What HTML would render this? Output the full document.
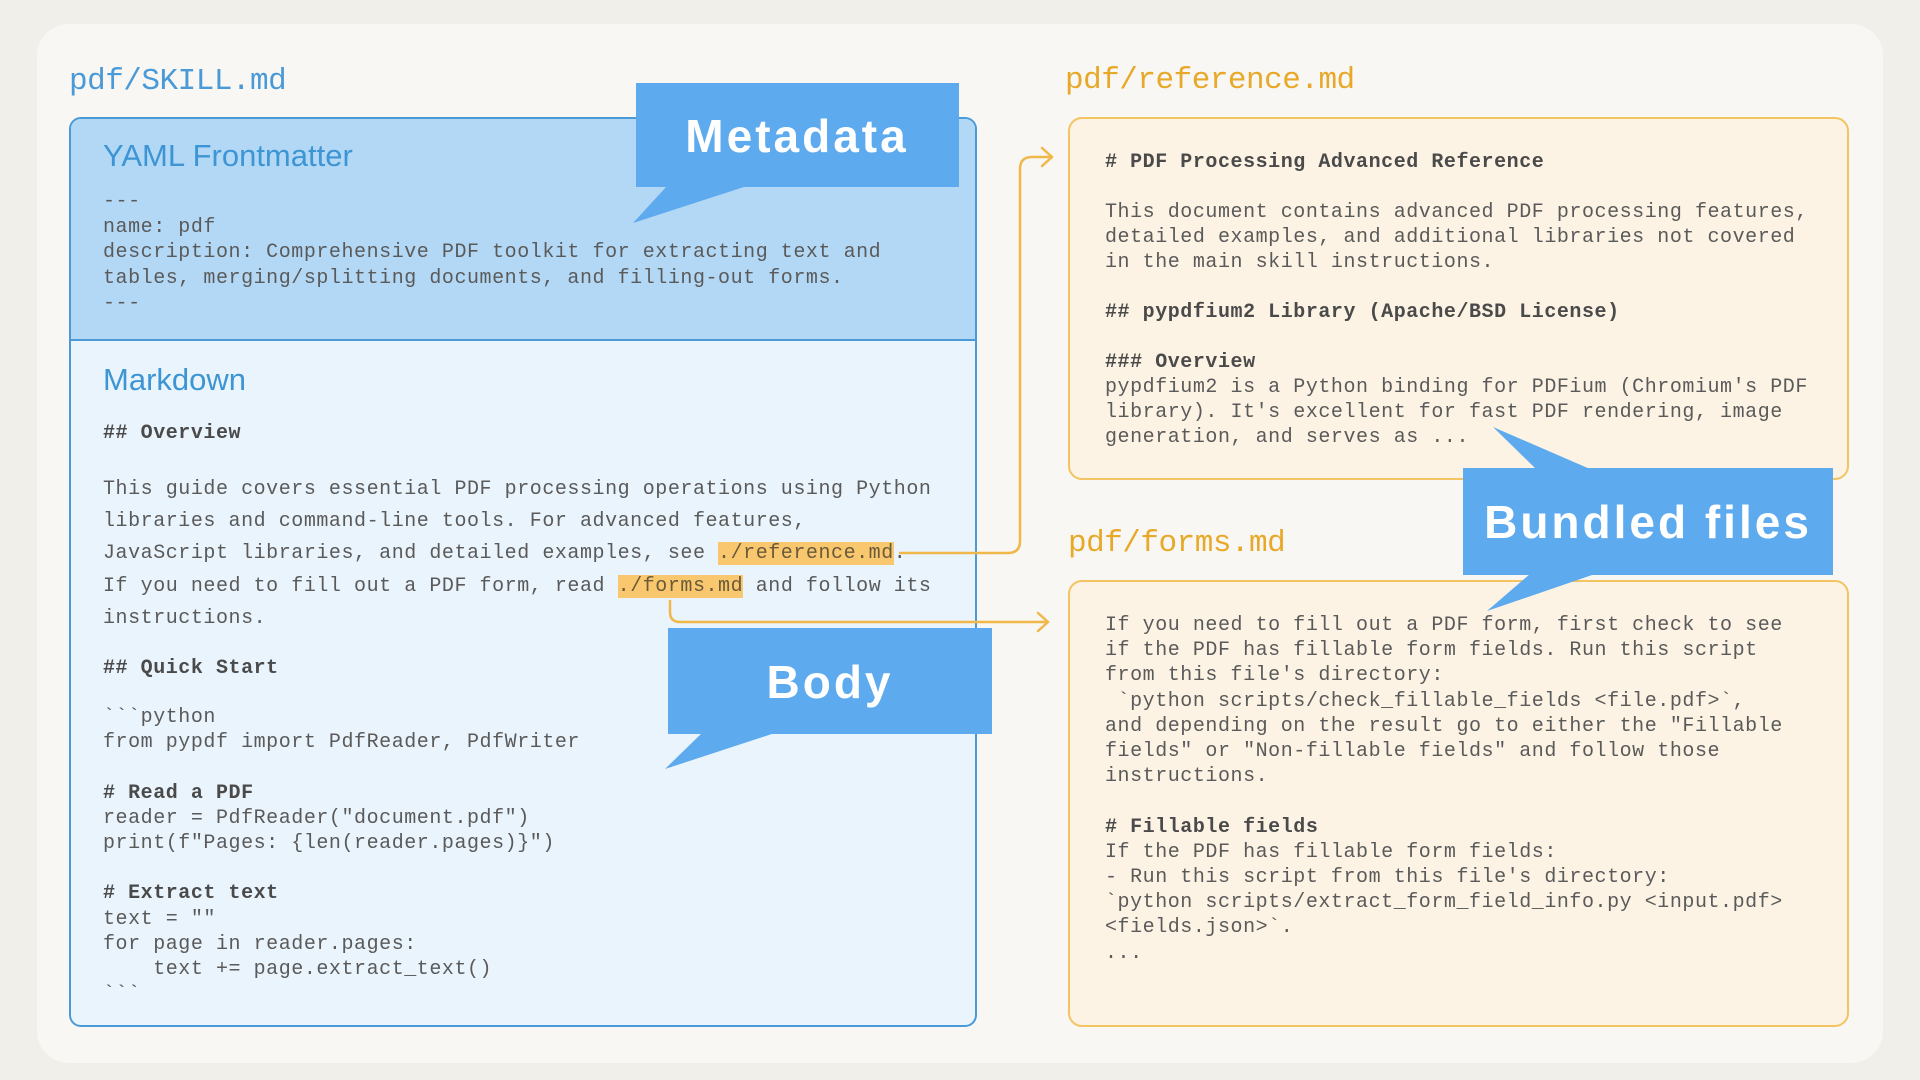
<!DOCTYPE html>
<html><head><meta charset="utf-8"><style>
*{margin:0;padding:0;box-sizing:border-box}
body{width:1920px;height:1080px;background:#f1efea;position:relative;overflow:hidden;font-family:"Liberation Sans",sans-serif}
.abs{position:absolute}
pre{position:absolute;font-family:"Liberation Mono",monospace;font-size:20px;letter-spacing:0.55px;color:#5a5a5a;white-space:pre;margin:0}
b{font-weight:bold;color:#4a4a4a}
.hl{background:#f9c86e;color:#6a5a3a}
.title{position:absolute;font-family:"Liberation Mono",monospace;font-size:31px;letter-spacing:-0.5px}
</style></head><body>
<div class="abs" style="left:37px;top:24px;width:1846px;height:1039px;background:#f8f7f3;border-radius:32px"></div>

<div class="title" style="left:69px;top:64px;color:#4a9ad8">pdf/SKILL.md</div>
<div class="abs" style="left:69px;top:117px;width:908px;height:910px;border:2.5px solid #4a9ad8;border-radius:12px;background:#eaf4fc;overflow:hidden">
  <div style="position:absolute;left:0;top:0;right:0;height:222px;background:#b3d8f5;border-bottom:2.5px solid #4a9ad8"></div>
</div>
<div class="abs" style="left:103px;top:138px;font-size:31px;color:#3d95d4">YAML Frontmatter</div>
<pre style="left:103px;top:189px;line-height:25.5px">---
name: pdf
description: Comprehensive PDF toolkit for extracting text and
tables, merging/splitting documents, and filling-out forms.
---</pre>
<div class="abs" style="left:103px;top:362px;font-size:31px;color:#3d95d4">Markdown</div>
<pre style="left:103px;top:421px;line-height:25px"><b>## Overview</b></pre>
<pre style="left:103px;top:474px;line-height:32.2px">This guide covers essential PDF processing operations using Python
libraries and command-line tools. For advanced features,
JavaScript libraries, and detailed examples, see <span class="hl">./reference.md</span>.
If you need to fill out a PDF form, read <span class="hl">./forms.md</span> and follow its
instructions.</pre>
<pre style="left:103px;top:656px;line-height:25px"><b>## Quick Start</b></pre>
<pre style="left:103px;top:705px;line-height:25.2px">&#96;&#96;&#96;python
from pypdf import PdfReader, PdfWriter

<b># Read a PDF</b>
reader = PdfReader("document.pdf")
print(f"Pages: {len(reader.pages)}")

<b># Extract text</b>
text = ""
for page in reader.pages:
    text += page.extract_text()
&#96;&#96;&#96;</pre>

<div class="title" style="left:1065px;top:63px;color:#e8a92a">pdf/reference.md</div>
<div class="abs" style="left:1068px;top:117px;width:781px;height:363px;border:2.5px solid #f3c461;border-radius:14px;background:#fcf3e4"></div>
<pre style="left:1105px;top:150px;line-height:25px"><b># PDF Processing Advanced Reference</b>

This document contains advanced PDF processing features,
detailed examples, and additional libraries not covered
in the main skill instructions.

<b>## pypdfium2 Library (Apache/BSD License)</b>

<b>### Overview</b>
pypdfium2 is a Python binding for PDFium (Chromium's PDF
library). It's excellent for fast PDF rendering, image
generation, and serves as ...</pre>

<div class="title" style="left:1068px;top:526px;color:#e8a92a">pdf/forms.md</div>
<div class="abs" style="left:1068px;top:580px;width:781px;height:447px;border:2.5px solid #f3c461;border-radius:14px;background:#fcf3e4"></div>
<pre style="left:1105px;top:613px;line-height:25.2px">If you need to fill out a PDF form, first check to see
if the PDF has fillable form fields. Run this script
from this file's directory:
 &#96;python scripts/check_fillable_fields &lt;file.pdf&gt;&#96;,
and depending on the result go to either the "Fillable
fields" or "Non-fillable fields" and follow those
instructions.

<b># Fillable fields</b>
If the PDF has fillable form fields:
- Run this script from this file's directory:
&#96;python scripts/extract_form_field_info.py &lt;input.pdf&gt;
&lt;fields.json&gt;&#96;.
...</pre>

<svg class="abs" style="left:0;top:0" width="1920" height="1080">
  <g fill="none" stroke="#f0b84a" stroke-width="2.5" stroke-linecap="round" stroke-linejoin="round">
    <path d="M900 553 H1008 Q1020 553 1020 541 V169 Q1020 157 1032 157 H1052"/>
    <path d="M1042 148 L1052 157 L1042 166"/>
    <path d="M670 601 V612 Q670 622 680 622 H1048"/>
    <path d="M1038 613 L1048 622 L1038 631"/>
  </g>
  <g fill="#5eaaee">
    <rect x="636" y="83" width="323" height="104"/>
    <polygon points="667,186 747,186 633,223"/>
    <rect x="668" y="628" width="324" height="106"/>
    <polygon points="702,733 775,733 665,769"/>
    <rect x="1463" y="468" width="370" height="107"/>
    <polygon points="1536,469 1590,469 1493,427"/>
    <polygon points="1530,574 1595,574 1487,611"/>
  </g>
  <g fill="#fff" font-family="Liberation Sans, sans-serif" font-weight="bold" font-size="46" text-anchor="middle" letter-spacing="3">
    <text x="797" y="152">Metadata</text>
    <text x="830" y="698">Body</text>
    <text x="1648" y="538">Bundled files</text>
  </g>
</svg>
</body></html>
